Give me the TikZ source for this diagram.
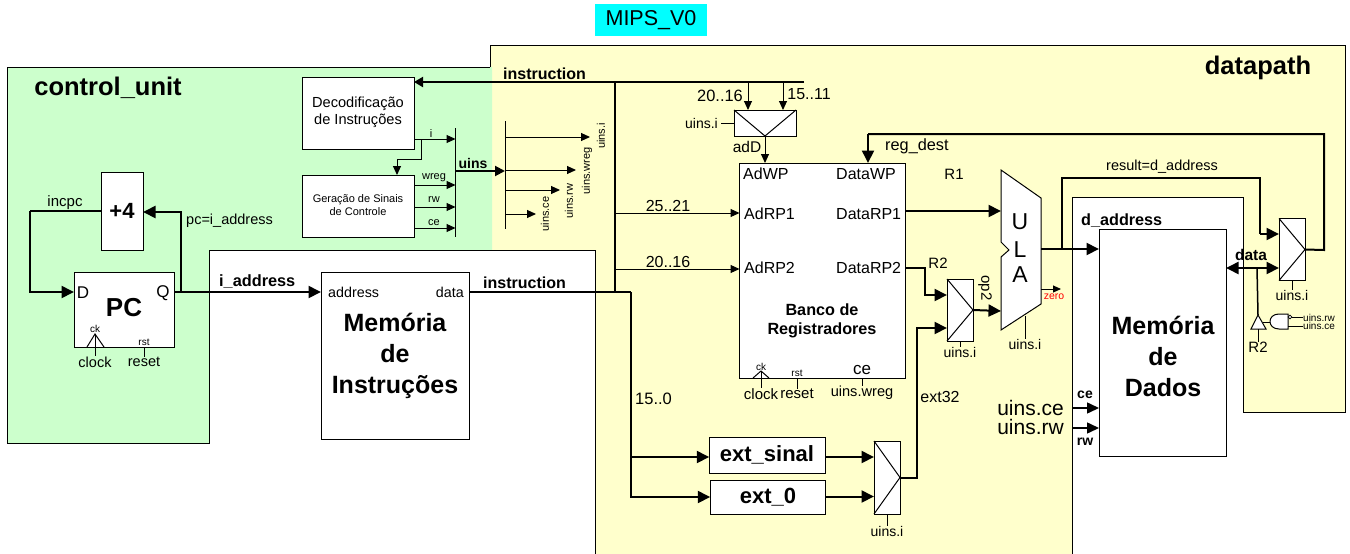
\documentclass[tikz,border=0pt]{standalone}
\usepackage{fontspec}
\setmainfont{Liberation Sans}
\usetikzlibrary{arrows.meta}
\definecolor{dpyellow}{RGB}{255,255,204}
\definecolor{cugreen}{RGB}{204,255,204}
\definecolor{titlecyan}{RGB}{0,255,255}
\tikzset{
	txt/.style={inner sep=0pt, align=center, font=\fontsize{#1}{#1}\selectfont},
	bld/.style={inner sep=0pt, align=center, font=\fontsize{#1}{#1}\selectfont\bfseries},
	blk/.style={draw=black, fill=white, line width=1pt, inner sep=0pt, outer sep=0pt},
	bus/.style={line width=2pt, -{Triangle[length=12.5pt,width=12pt]}},
	wire/.style={line width=1pt, -{Triangle[length=9pt,width=8pt]}},
}
\begin{document}
\begin{tikzpicture}[x=1pt,y=-1pt]
	\useasboundingbox (0,0) rectangle (1350,554);
	%regions behind everything
	\fill[white] (0,0) rectangle (1350,554);
	\fill[dpyellow] (490,45) -- (1345,45) -- (1345,412) -- (1243,412) -- (1243,197) -- (1072,197) -- (1072,554) -- (595,554) -- (595,250) -- (490,250) -- cycle;
	\fill[cugreen] (7,67) -- (492,67) -- (492,250) -- (209,250) -- (209,443) -- (7,443) -- cycle;
	\draw[line width=1pt] (490,67) -- (7,67) -- (7,443) -- (209,443) -- (209,250) -- (595,250) -- (595,554);
	\draw[line width=1pt] (490,67) -- (490,45) -- (1345,45) -- (1345,412) -- (1243,412) -- (1243,197) -- (1072,197) -- (1072,554);
	\node[fill=titlecyan, minimum width=112pt, minimum height=32pt, inner sep=0pt, font=\fontsize{21.5}{21.5}\selectfont] (title) at (651,20) {MIPS\_V0};
	\node[bld=25.5] (cutitle) at (108,88) {control\_unit};
	\node[bld=25.5] (dptitle) at (1258,68) {datapath};

	%control blocks
	\node[blk, minimum width=112pt, minimum height=72pt] (decod) at (358,113) {};
	\node[txt=14.6] (decodtxt) at (358,112.5) {Decodificação\\[2.5pt]de Instruções};
	\node[blk, minimum width=112pt, minimum height=62pt] (gera) at (358,206) {};
	\node[txt=11] (geratxt) at (358,205.5) {Geração de Sinais\\[2pt]de Controle};
	\coordinate (busltop) at (455.5,128);
	\coordinate (buslbot) at (455.5,237);
	\coordinate (busrtop) at (505,121);
	\coordinate (busrbot) at (505,229);
	\draw[line width=1pt] (busltop) -- (buslbot);
	\draw[line width=1pt] (busrtop) -- (busrbot);
	\coordinate (ibranch) at (421,139);
	\coordinate (ibranchb) at (397,159);
	\draw[wire] (decod.east |- ibranch) -- (busltop |- ibranch);
	\draw[wire] (ibranch) |- (ibranchb) -- (ibranchb |- gera.north);
	\foreach \yy/\nn in {185/wreg,207/rw,228/ce}{
		\coordinate (sig\nn) at (455.5,\yy);
		\draw[wire] (gera.east |- sig\nn) -- (sig\nn);
	}
	\node[txt=11] (ilbl) at (431,134) {i};
	\node[txt=11] (wreglbl) at (434,178) {wreg};
	\node[txt=11] (rwlbl) at (434,200) {rw};
	\node[txt=11] (celbl) at (434,222.5) {ce};
	\coordinate (uinsl) at (455.5,171);
	\draw[line width=2pt, -{Triangle[length=10pt,width=10pt]}] (uinsl) -- (busrtop |- uinsl);
	\node[bld=14] (uinslbl) at (473,163) {uins};
	\foreach \xx/\yy/\nn/\lx/\ly in {590/137/i/601/136, 576/170/wreg/587/171, 560/190/rw/569/201, 536/214/ce/545/214}{
		\coordinate (end\nn) at (\xx,\yy);
		\draw[wire] (busrtop |- end\nn) -- (end\nn);
		\node[txt=11, rotate=90] (uins\nn) at (\lx,\ly) {uins.\nn};
	}

	%instruction fetch
	\node[blk, minimum width=42pt, minimum height=78pt] (addfour) at (122,211) {};
	\node[bld=22] (addtxt) at (122,211) {+4};
	\node[blk, minimum width=100pt, minimum height=75pt] (pc) at (124,309.5) {};
	\node[bld=26] (pctxt) at (124,308) {PC};
	\node[txt=17] (pcd) at (83,293) {D};
	\node[txt=17] (pcq) at (163,293) {Q};
	\node[blk, minimum width=148pt, minimum height=167pt] (imem) at (395,355.5) {};
	\node[bld=25] (imemtxt) at (395,355.5) {Memória\\[6pt]de\\[6pt]Instruções};
	\node[txt=14.3, anchor=west] (imaddr) at (328,292) {address};
	\node[txt=14.3, anchor=east] (imdata) at (464,292) {data};
	\coordinate (pcout) at (174,292);
	\coordinate (pcin) at (74,292);
	\coordinate (looplft) at (30,211);
	\coordinate (looprgt) at (181,212);
	\draw[line width=2pt] (addfour.west) -- (looplft);
	\draw[bus] (looplft) |- (pcin);
	\draw[bus] (pcout -| looprgt) -- (looprgt) -- (addfour.east |- looprgt);
	\draw[bus] (pcout) -- (imem.west |- pcout);
	\node[txt=15] (incpc) at (65,203) {incpc};
	\node[txt=14.5, anchor=west] (pcaddr) at (186,221) {pc=i\_address};
	\node[bld=16.3, anchor=west] (iaddr) at (219,282) {i\_address};
	\node[bld=16, anchor=west] (inst2) at (483,283) {instruction};
	%clock and reset of PC
	\coordinate (ckapex) at (95,334);
	\draw[line width=1pt] (87,347) -- (ckapex) -- (104,347);
	\node[txt=10] (pcck) at (95,329) {ck};
	\node[txt=10] (pcrst) at (144,342) {rst};
	\node[txt=14.5] (pcclock) at (95,362) {clock};
	\node[txt=14.5] (pcreset) at (144,362) {reset};
	\draw[line width=1pt] (pcclock.north |- ckapex) -- (pcclock.north);
	\draw[line width=1pt] (pcreset.north |- pc.south) -- (pcreset.north);

	%instruction buses
	\coordinate (itop) at (615,82);
	\coordinate (imout) at (615,292);
	\coordinate (idrop) at (631,292);
	\coordinate (itopend) at (804,82);
	\draw[line width=2pt] (imem.east |- imout) -- (imout) -- (idrop);
	\draw[line width=2pt] (imout) -- (itop);
	\draw[bus, -{Triangle[length=9pt,width=10pt]}] (itopend) -- (decod.east |- itopend);
	\node[bld=16, anchor=west] (inst1) at (503,74) {instruction};
	\node[txt=16.5, anchor=west] (lbl150) at (635,399) {15..0};

	%sign extension
	\node[blk, minimum width=116.5pt, minimum height=36pt] (extsinal) at (767.5,455) {};
	\node[bld=22] (extsinaltxt) at (767,455) {ext\_sinal};
	\node[blk, minimum width=115.5pt, minimum height=34pt] (extzero) at (768,497) {};
	\node[bld=22] (extzerotxt) at (768,497) {ext\_0};
	\draw[bus] (idrop) |- (extzero.west);
	\coordinate (sinalin) at (631,457);
	\draw[bus] (sinalin) -- (sinalin -| extsinal.west);
	\node[blk, minimum width=26pt, minimum height=73pt] (muxext) at (887,477.5) {};
	\draw[line width=1pt] (muxext.north west) -- (muxext.east) -- (muxext.south west);
	\coordinate (mxa) at (874,457);
	\coordinate (mxb) at (874,496.5);
	\draw[bus] (extsinal.east |- mxa) -- (mxa);
	\draw[bus] (extzero.east |- mxb) -- (mxb);
	\node[txt=14] (extuins) at (887,531) {uins.i};
	\draw[line width=1pt] (muxext.south) -- (extuins.north);

	%register bank
	\node[blk, minimum width=166pt, minimum height=215pt] (regs) at (822.5,270.5) {};
	\node[bld=16.2] (regstxt) at (822,320.5) {Banco de\\[3pt]Registradores};
	\foreach \nn/\xx/\yy in {AdWP/743/174,DataWP/836/174,AdRP1/744/214,DataRP1/836/214,AdRP2/744/268,DataRP2/836/268}{
		\node[txt=16, anchor=west] (\nn) at (\xx,\yy) {\nn};
	}
	\coordinate (rd1) at (739.5,213);
	\coordinate (rd2) at (739.5,269);
	\draw[wire] (rd1 -| itop) -- (rd1);
	\draw[wire] (rd2 -| itop) -- (rd2);
	\node[txt=16] (lbl2521) at (668,206) {25..21};
	\node[txt=16] (lbl2016b) at (668,262) {20..16};
	%clock, reset and ce of bank
	\coordinate (bankck) at (761,371);
	\draw[line width=1pt] (753,378) -- (bankck) -- (769,378);
	\node[txt=10] (bckl) at (761,367) {ck};
	\node[txt=10] (brstl) at (797,373) {rst};
	\node[txt=17] (bcel) at (862,370) {ce};
	\node[txt=15] (bclock) at (761,394) {clock};
	\node[txt=15] (breset) at (797,394) {reset};
	\node[txt=14.6] (bwreg) at (862,393) {uins.wreg};
	\draw[line width=1pt] (bankck) -- (bclock.north);
	\draw[line width=1pt] (breset.north |- regs.south) -- (breset.north);
	\draw[line width=1pt] (bwreg.north |- regs.south) -- (bwreg.north);

	%write address mux
	\node[blk, minimum width=62pt, minimum height=26pt] (muxd) at (765,123) {};
	\draw[line width=1pt] (muxd.north west) -- (muxd.south) -- (muxd.north east);
	\coordinate (tapa) at (748,82);
	\coordinate (tapb) at (783,82);
	\draw[wire] (tapa) -- (tapa |- muxd.north);
	\draw[wire] (tapb) -- (tapb |- muxd.north);
	\draw[wire] (muxd.south) -- (muxd.south |- regs.north);
	\node[txt=16.4] (lbl2016) at (720,96) {20..16};
	\node[txt=16] (lbl1511) at (809,94) {15..11};
	\node[txt=15.5] (addl) at (747,147) {adD};
	\node[txt=14, anchor=east] (muxduins) at (718,123) {uins.i};
	\draw[line width=1pt] (muxduins.east) ++(3,0) -- (muxd.west);

	%ALU
	\coordinate (ulaa) at (1001,170);
	\coordinate (ulab) at (1041,198);
	\coordinate (ulac) at (1041,304);
	\coordinate (ulad) at (1001,330);
	\filldraw[fill=white, line width=1pt] (ulaa) -- (ulab) -- (ulac) -- (ulad) -- (1001,257) -- (1009,250) -- (1001,242) -- cycle;
	\node[txt=23] (ulau) at (1020,222) {U};
	\node[txt=23] (ulal) at (1020,250) {L};
	\node[txt=23] (ulaaa) at (1020,275) {A};
	\coordinate (ulain1) at (1001,211);
	\coordinate (ulain2) at (1001,311);
	\coordinate (ulaout) at (1041,249);
	\draw[bus] (regs.east |- ulain1) -- (ulain1);
	\node[txt=15] (lblr1) at (954,174) {R1};
	\node[blk, minimum width=26pt, minimum height=62pt] (muxalu) at (960,310) {};
	\draw[line width=1pt] (muxalu.north west) -- (muxalu.east) -- (muxalu.south west);
	\draw[bus] (muxalu.east) -- (ulain2);
	\coordinate (r2a) at (905.5,268);
	\coordinate (r2b) at (925,268);
	\coordinate (r2c) at (947,295);
	\draw[bus] (r2a) -- (r2b) |- (r2c);
	\coordinate (ex1) at (900,478);
	\coordinate (ex2) at (917,478);
	\coordinate (ex3) at (947,328);
	\draw[bus] (ex1) -- (ex2) |- (ex3);
	\node[txt=15] (lblr2) at (938,263) {R2};
	\node[txt=16] (lblext) at (940,397) {ext32};
	\node[txt=15, rotate=-90] (lblop) at (985,288) {op2};
	\node[txt=14] (aluuins1) at (960,352) {uins.i};
	\draw[line width=1pt] (muxalu.south) -- (aluuins1.north);
	\node[txt=14] (aluuins2) at (1025,344) {uins.i};
	\draw[line width=1pt] (aluuins2.north |- 0,316) -- (aluuins2.north);
	\coordinate (zeroa) at (1041,289);
	\coordinate (zerob) at (1061,289);
	\draw[line width=1pt, -{Triangle[length=8pt,width=7pt]}] (zeroa) -- (zerob);
	\node[txt=10.5, text=red] (zerol) at (1054,297) {zero};

	%data memory
	\node[blk, minimum width=127pt, minimum height=227pt] (dmem) at (1162.5,342.5) {};
	\node[bld=25] (dmemtxt) at (1163,356.5) {Memória\\[6pt]de\\[6pt]Dados};
	\draw[bus] (ulaout) -- (ulaout -| dmem.west);
	\node[bld=16.2, anchor=west] (daddr) at (1081,221) {d\_address};
	\coordinate (ceport) at (1099,408);
	\coordinate (rwport) at (1099,428);
	\draw[line width=1.5pt, -{Triangle[length=12pt,width=11pt]}] (1072,408) -- (ceport);
	\draw[line width=1.5pt, -{Triangle[length=12pt,width=11pt]}] (1072,428) -- (rwport);
	\node[bld=14] (cel) at (1085,395) {ce};
	\node[bld=14] (rwl) at (1085,442) {rw};
	\node[txt=21, anchor=east] (uinsce) at (1064,408) {uins.ce};
	\node[txt=21, anchor=east] (uinsrw) at (1064,427) {uins.rw};

	%write back mux
	\node[blk, minimum width=26pt, minimum height=62pt] (muxwb) at (1292,249.5) {};
	\draw[line width=1pt] (muxwb.north west) -- (muxwb.east) -- (muxwb.south west);
	\node[txt=14] (wbuins) at (1292,295) {uins.i};
	\draw[line width=1pt] (muxwb.south) -- (wbuins.north);
	\coordinate (resa) at (1062,249);
	\coordinate (resb) at (1062,178);
	\coordinate (resc) at (1260,178);
	\coordinate (resd) at (1260,234);
	\draw[line width=2pt] (resa) -- (resb) -- (resc) -- (resd);
	\draw[bus] (resd) -- (resd -| muxwb.west);
	\node[txt=14.5] (resl) at (1162,167) {result=d\_address};
	\coordinate (wbc) at (1324,250);
	\coordinate (wbd) at (1324,134);
	\coordinate (wbe) at (868,134);
	\draw[line width=2pt] (muxwb.east) -- (wbc) -- (wbd) -- (wbe);
	\draw[bus] (wbe) -- (wbe |- regs.north);
	\node[txt=16.3, anchor=west] (regdest) at (885,146) {reg\_dest};
	%data bus with buffer
	\coordinate (dataa) at (1226,268);
	\coordinate (datab) at (1279,268);
	\draw[line width=2pt, {Triangle[length=12.5pt,width=12pt]}-{Triangle[length=12.5pt,width=12pt]}] (dataa) -- (datab);
	\node[bld=15.5] (datal) at (1251,255) {data};
	\coordinate (dtap) at (1257,268);
	\coordinate (bufapex) at (1258,315);
	\draw[line width=1.5pt] (dtap) -- (bufapex);
	\filldraw[fill=white, line width=1pt] (bufapex) -- (1266,329) -- (1251,329) -- cycle;
	\node[txt=15] (bufr2) at (1258,347) {R2};
	\draw[line width=1pt] (1258,329) -- (bufr2.north);
	\draw[line width=1pt] (1263,322) -- (1270,322);
	\filldraw[fill=white, line width=1pt] (1288,314) -- (1279,314) .. controls (1267,314) and (1267,329) .. (1279,329) -- (1288,329) -- cycle;
	\filldraw[fill=white, line width=0.7pt] (1290,317) circle (1.8);
	\node[txt=10, anchor=west] (gaterw) at (1303,317.5) {uins.rw};
	\node[txt=10, anchor=west] (gatece) at (1303,326) {uins.ce};
	\draw[line width=1pt] (1292,317.5) -- (gaterw.west);
	\draw[line width=1pt] (1288,326) -- (gatece.west);
\end{tikzpicture}
\end{document}
